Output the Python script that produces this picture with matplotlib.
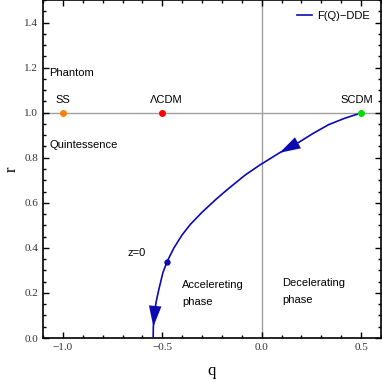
import matplotlib.pyplot as plt
from matplotlib.ticker import MultipleLocator

# trajectory (q, r)
q_vals = [0.48, 0.42, 0.337, 0.253, 0.186, 0.09, -0.007, -0.082, -0.174,
          -0.233, -0.30, -0.358, -0.40, -0.442, -0.476, -0.497, -0.518,
          -0.531, -0.540, -0.545, -0.546]
r_vals = [0.993, 0.976, 0.947, 0.905, 0.868, 0.822, 0.769, 0.724, 0.658,
          0.613, 0.558, 0.505, 0.458, 0.399, 0.339, 0.29, 0.213,
          0.16, 0.10, 0.05, 0.0]

fixed_names = ["SS", "\u039bCDM", "SCDM"]
fixed_q = [-1.0, -0.5, 0.5]
fixed_r = [1.0, 1.0, 1.0]
fixed_colors = ["#ff8000", "#ff0000", "#00dd00"]

z0_q, z0_r = -0.476, 0.339

blue = "#0a0ab0"
sans = ["Liberation Sans", "DejaVu Sans"]
serif = ["Liberation Serif", "DejaVu Serif"]

fig = plt.figure(figsize=(3.82, 3.82), dpi=100)
ax = fig.add_axes([43 / 382, 44 / 382, 338 / 382, 338 / 382])

ax.axhline(1.0, color="#a0a0a0", lw=1.0, zorder=1)
ax.axvline(0.0, color="#a0a0a0", lw=1.0, zorder=1)

ax.plot(q_vals, r_vals, color=blue, lw=1.2, label="F(Q)\u2212DDE", zorder=3)

# direction arrows along the curve (tip index, tail index)
for i_tip, i_tail in [(5, 4), (19, 18)]:
    ax.annotate("", xy=(q_vals[i_tip], r_vals[i_tip]),
                xytext=(q_vals[i_tail], r_vals[i_tail]),
                arrowprops=dict(arrowstyle="-|>,head_length=1.0,head_width=0.3",
                                color=blue, lw=0.01, mutation_scale=15,
                                shrinkA=0, shrinkB=0), zorder=4)

for q, r, c in zip(fixed_q, fixed_r, fixed_colors):
    ax.plot(q, r, "o", color=c, ms=4, zorder=5)
ax.plot(z0_q, z0_r, "o", color=blue, ms=3.5, zorder=5)

ax.text(-1.0, 1.058, fixed_names[0], ha="center", va="center", fontsize=8, family=sans)
ax.text(-0.478, 1.058, fixed_names[1], ha="center", va="center", fontsize=8, family=sans)
ax.text(0.476, 1.058, fixed_names[2], ha="center", va="center", fontsize=8, family=sans)
ax.text(-1.068, 1.176, "Phantom", ha="left", va="center", fontsize=8, family=sans)
ax.text(-1.068, 0.858, "Quintessence", ha="left", va="center", fontsize=8, family=sans)
ax.text(-0.628, 0.378, "z=0", ha="center", va="center", fontsize=8, family=sans)
ax.text(-0.4, 0.236, "Accelereting", ha="left", va="center", fontsize=8, family=sans)
ax.text(-0.4, 0.161, "phase", ha="left", va="center", fontsize=8, family=sans)
ax.text(0.102, 0.243, "Decelerating", ha="left", va="center", fontsize=8, family=sans)
ax.text(0.102, 0.169, "phase", ha="left", va="center", fontsize=8, family=sans)

ax.set_xlim(-1.1, 0.6)
ax.set_ylim(0, 1.5)
ax.xaxis.set_major_locator(MultipleLocator(0.5))
ax.xaxis.set_minor_locator(MultipleLocator(0.1))
ax.yaxis.set_major_locator(MultipleLocator(0.2))
ax.yaxis.set_minor_locator(MultipleLocator(0.05))
ax.tick_params(which="both", direction="in", top=True, right=True, width=1.0)
ax.tick_params(which="major", length=4, labelsize=8, labelcolor="#333333")
ax.tick_params(which="minor", length=2)
ax.xaxis.set_major_formatter(plt.FuncFormatter(lambda v, p: f"{v:.1f}".replace("-", "\u2212")))
ax.yaxis.set_major_formatter(plt.FuncFormatter(lambda v, p: f"{v:.1f}"))
for lab in ax.get_xticklabels() + ax.get_yticklabels():
    lab.set_family(serif)
for sp in ax.spines.values():
    sp.set_linewidth(1.2)

ax.set_xlabel("q", fontsize=12, family=serif, labelpad=8)
ax.set_ylabel("r", fontsize=12, family=serif, labelpad=3)

ax.legend(loc="upper right", frameon=False, handlelength=1.3, handletextpad=0.5,
          prop=dict(family=sans, size=8), borderaxespad=0.6)

fig.savefig("out.png", dpi=100)
